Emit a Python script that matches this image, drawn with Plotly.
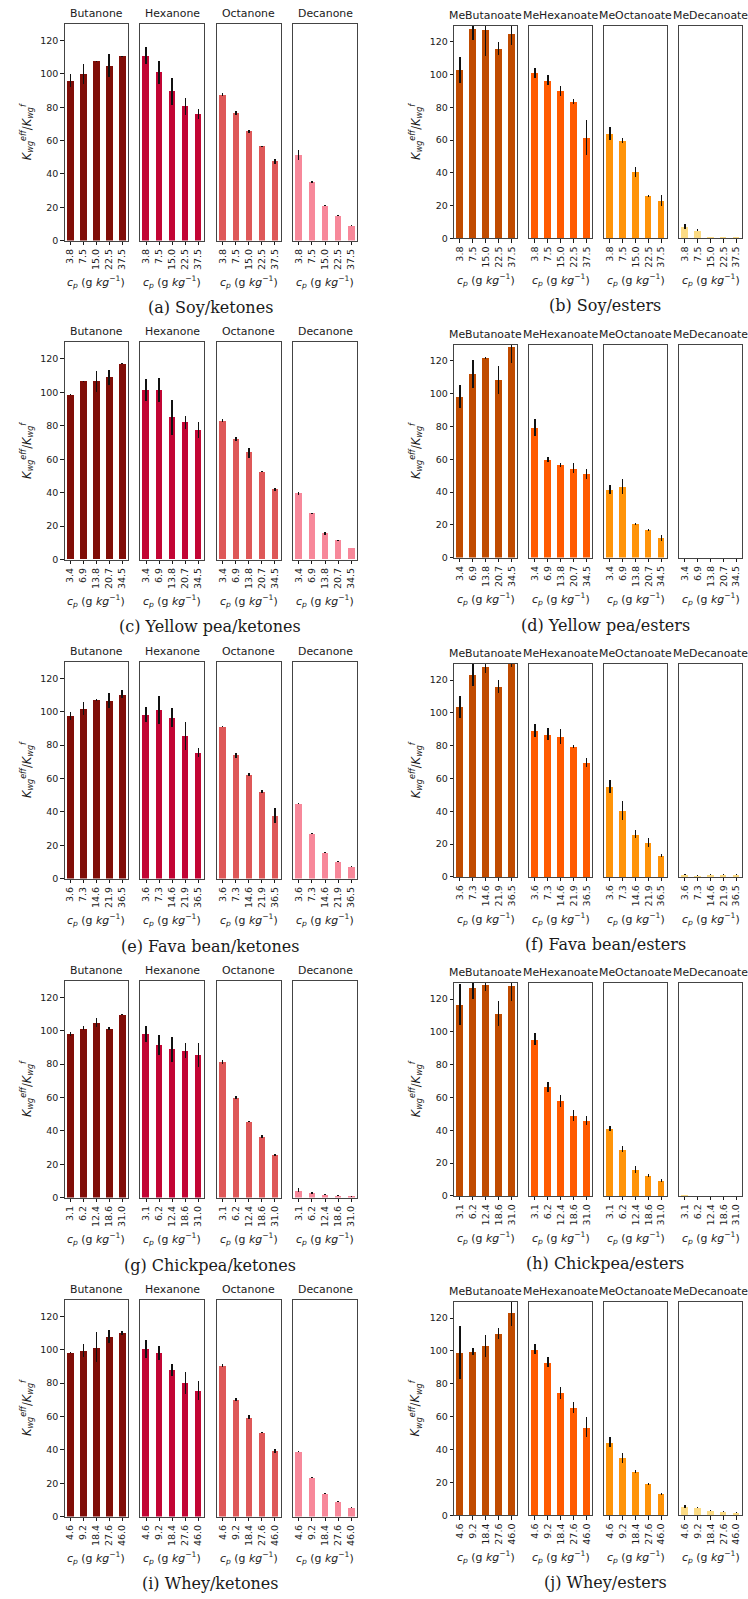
import plotly.graph_objects as go

W, H = 748, 1599

ketones = ["Butanone", "Hexanone", "Octanone", "Decanone"]
esters = ["MeButanoate", "MeHexanoate", "MeOctanoate", "MeDecanoate"]
ketone_colors = ["#800e08", "#c20534", "#de5858", "#f7889a"]
ester_colors = ["#c04b00", "#ff5a00", "#ff9409", "#fcdb84"]

conc_soy = ["3.8", "7.5", "15.0", "22.5", "37.5"]
conc_pea = ["3.4", "6.9", "13.8", "20.7", "34.5"]
conc_fava = ["3.6", "7.3", "14.6", "21.9", "36.5"]
conc_chickpea = ["3.1", "6.2", "12.4", "18.6", "31.0"]
conc_whey = ["4.6", "9.2", "18.4", "27.6", "46.0"]

soy_ketones = [[96, 100, 107.5, 105, 110.5], [111, 101, 89.5, 80.5, 76],
               [87.5, 76.5, 65.5, 56.5, 47.5], [51.5, 35, 21, 15, 9]]
soy_ketones_err = [[4, 6, 0.5, 7, 0.5], [5, 7, 8, 5, 3],
                   [1, 1, 0.7, 0.5, 1.5], [3, 0.7, 0.5, 0.4, 0.4]]
soy_esters = [[103, 128, 127.5, 116, 125], [101, 96.5, 90, 83.5, 61.5],
              [64, 60, 40.5, 26, 23], [7, 5, 0.7, 0.7, 0.8]]
soy_esters_err = [[8, 7, 16, 4, 7], [3, 3, 3, 1.5, 10.5],
                  [4, 1.5, 3, 0.5, 3.5], [1.5, 0.5, 0.2, 0.2, 0.2]]

pea_ketones = [[98.5, 106.5, 106.5, 109, 117], [101.5, 101.5, 85, 82, 77.5],
               [83, 72, 64, 52.5, 42], [39.5, 27.5, 15.5, 11.5, 6.5]]
pea_ketones_err = [[0.3, 0.3, 6.5, 4.5, 0.3], [6.5, 7, 10.5, 4, 4.5],
                   [1, 1.2, 3, 0.3, 0.7], [0.7, 0.5, 0.7, 0.4, 0]]
pea_esters = [[98.5, 112, 122, 108.5, 128.5], [79.5, 60, 56.5, 54.5, 51],
              [41.5, 43.5, 20.5, 17, 12], [0, 0, 0, 0, 0]]
pea_esters_err = [[7, 8.5, 0.5, 8.5, 9.5], [5, 1.5, 1.5, 3, 3],
                  [3, 4.5, 0.7, 0.7, 1.8], [0, 0, 0, 0, 0]]

fava_ketones = [[97.5, 102, 107, 106.5, 110.5], [98.5, 101, 96.5, 85.5, 75.5],
                [91, 74, 62.5, 52, 37.5], [45, 27, 15.5, 10.3, 7.2]]
fava_ketones_err = [[2.5, 4, 0.5, 4.5, 2.5], [4.5, 8.5, 5.5, 8.5, 2.5],
                    [0.3, 1.5, 0.8, 0.8, 4.5], [0.2, 0.4, 0.3, 0.3, 0.3]]
fava_esters = [[103.5, 123, 128, 116, 132], [89, 87, 85.5, 79.5, 69.5],
               [55, 40.5, 26, 21, 13], [1.3, 0.7, 1.3, 1.3, 1.3]]
fava_esters_err = [[6.5, 6.5, 3.5, 4, 4], [4, 3.5, 4.5, 0.8, 2.7],
                   [4, 5.5, 2.5, 2.5, 1], [0.3, 0.2, 0.3, 0.2, 0.2]]

chickpea_ketones = [[98, 101.5, 105, 101.5, 109.5], [98, 91.5, 89, 88, 85.5],
                    [81.5, 60, 45.5, 36.5, 25.5], [4.3, 3, 1.7, 1.2, 0.6]]
chickpea_ketones_err = [[1.2, 1.2, 2.5, 1, 0.3], [5, 6, 7.5, 4.5, 7],
                        [1.2, 0.8, 0.3, 1, 0.8], [1.2, 0.6, 0.2, 0.2, 0.1]]
chickpea_esters = [[116.5, 127, 128.5, 111, 128], [95.5, 66.5, 58, 49, 46],
                   [41, 28.5, 16, 12.5, 9.5], [0.6, 0.1, 0.1, 0.1, 0.1]]
chickpea_esters_err = [[12.5, 7, 3.5, 7.5, 9], [3.5, 3, 3.5, 3.5, 2.5],
                       [1.5, 1.8, 2, 0.8, 0.7], [0.1, 0.1, 0.1, 0.1, 0.1]]

whey_ketones = [[98.5, 99.5, 101.5, 108, 110], [100.5, 98, 88, 80, 75.5],
                [90.5, 70, 59.5, 50.5, 39.5], [39, 23.5, 14, 9.2, 5.5]]
whey_ketones_err = [[0.2, 4, 9, 4, 1.2], [5.5, 4, 3.5, 6.5, 5.5],
                    [1, 0.8, 1.2, 0.3, 1.2], [0.5, 0.4, 0.3, 0.2, 0.3]]
whey_esters = [[99, 99.5, 103, 110.5, 123.5], [101, 93, 74.5, 65.5, 53.5],
               [44.5, 35, 26.5, 19, 13], [5.3, 4.7, 2.8, 2.2, 1.6]]
whey_esters_err = [[16, 2, 6.5, 3.5, 8.5], [3, 3, 3.5, 3.5, 6],
                   [3, 3, 1, 0.6, 0.8], [0.8, 0.3, 0.2, 0.1, 0.1]]

y_ticks = [0, 20, 40, 60, 80, 100, 120]

panels = [
    ("(a) Soy/ketones", conc_soy, ketones, ketone_colors, soy_ketones, soy_ketones_err, 0, 0),
    ("(b) Soy/esters", conc_soy, esters, ester_colors, soy_esters, soy_esters_err, 1, 0),
    ("(c) Yellow pea/ketones", conc_pea, ketones, ketone_colors, pea_ketones, pea_ketones_err, 0, 1),
    ("(d) Yellow pea/esters", conc_pea, esters, ester_colors, pea_esters, pea_esters_err, 1, 1),
    ("(e) Fava bean/ketones", conc_fava, ketones, ketone_colors, fava_ketones, fava_ketones_err, 0, 2),
    ("(f) Fava bean/esters", conc_fava, esters, ester_colors, fava_esters, fava_esters_err, 1, 2),
    ("(g) Chickpea/ketones", conc_chickpea, ketones, ketone_colors, chickpea_ketones, chickpea_ketones_err, 0, 3),
    ("(h) Chickpea/esters", conc_chickpea, esters, ester_colors, chickpea_esters, chickpea_esters_err, 1, 3),
    ("(i) Whey/ketones", conc_whey, ketones, ketone_colors, whey_ketones, whey_ketones_err, 0, 4),
    ("(j) Whey/esters", conc_whey, esters, ester_colors, whey_esters, whey_esters_err, 1, 4),
]

# geometry in pixels
col_x = [
    [(64.7, 127.7), (140.3, 204), (217, 280.7), (293, 357)],
    [(454.3, 517.3), (529.3, 592.3), (604.3, 667), (679.3, 742)],
]
row_y = [
    [(24, 241.3), (343.3, 561.3), (663.7, 881.3), (983.7, 1201.3), (1303.7, 1521.3)],
    [(25.6, 239), (345.7, 559.3), (665.7, 879.7), (985.7, 1199.7), (1305.7, 1520)],
]
caption_y = [[308, 628, 949, 1269, 1588], [306, 627, 947, 1267, 1587]]
caption_x = [210, 605]
ylabel_x = [27, 416]


def px(x):
    return x / W


def py(y):
    return 1 - y / H


SANS = "DejaVu Sans"
TXT = "#1a1a1a"
FRAME = "#444444"

fig = go.Figure()
layout = {}
annotations = []
k = 0
for caption, conc, names, colors, vals, errs, col, row in panels:
    top, bot = row_y[col][row]
    for j in range(4):
        k += 1
        xn = "x" if k == 1 else f"x{k}"
        yn = "y" if k == 1 else f"y{k}"
        x0, x1 = col_x[col][j]
        fig.add_trace(go.Bar(
            x=conc, y=vals[j], xaxis=xn, yaxis=yn,
            marker=dict(color=colors[j], line=dict(width=0)),
            width=0.5, showlegend=False,
            error_y=dict(type="data", array=errs[j], color="#111111",
                         thickness=1.4, width=0, visible=True),
        ))
        layout[f"xaxis{'' if k == 1 else k}"] = dict(
            domain=[px(x0), px(x1)], anchor=yn, type="category",
            range=[-0.44, 4.44], showgrid=False, zeroline=False,
            showline=True, mirror=True, linecolor=FRAME, linewidth=1,
            ticks="outside", ticklen=3.5, tickwidth=1, tickcolor=TXT,
            tickangle=-90, tickfont=dict(family=SANS, size=9.5, color=TXT),
            fixedrange=True,
        )
        layout[f"yaxis{'' if k == 1 else k}"] = dict(
            domain=[py(bot), py(top)], anchor=xn, range=[0, 130],
            showgrid=False, zeroline=False,
            showline=True, mirror=True, linecolor=FRAME, linewidth=1,
            tickvals=y_ticks,
            ticks="outside" if j == 0 else "", ticklen=3.5, tickwidth=1,
            tickcolor=TXT, showticklabels=(j == 0),
            tickfont=dict(family=SANS, size=9.5, color=TXT), fixedrange=True,
        )
        # subplot title
        annotations.append(dict(
            x=px((x0 + x1) / 2), y=py(top - 2), xref="paper", yref="paper",
            text=names[j], showarrow=False, xanchor="center", yanchor="bottom",
            font=dict(family=SANS, size=10.9, color=TXT),
        ))
        # x-axis title
        annotations.append(dict(
            x=px((x0 + x1) / 2), y=py(bot + 42), xref="paper", yref="paper",
            text="<i>c</i><sub><i>p</i></sub> (g <i>kg</i><sup>−1</sup>)",
            showarrow=False, xanchor="center", yanchor="middle",
            font=dict(family=SANS, size=10.9, color=TXT),
        ))
    # y-axis title
    annotations.append(dict(
        x=px(ylabel_x[col]), y=py((top + bot) / 2), xref="paper", yref="paper",
        text="<i>K</i><sub><i>wg</i></sub><sup><i>eff</i></sup>/<i>K</i><sub><i>wg</i></sub><sup><i>f</i></sup>",
        showarrow=False, textangle=-90, xanchor="center", yanchor="middle",
        font=dict(family=SANS, size=11.5, color=TXT),
    ))
    # caption
    annotations.append(dict(
        x=px(caption_x[col]), y=py(caption_y[col][row]),
        xref="paper", yref="paper", text=caption, showarrow=False,
        xanchor="center", yanchor="middle",
        font=dict(family="DejaVu Serif", size=16, color=TXT),
    ))

fig.update_layout(
    width=W, height=H, margin=dict(l=0, r=0, t=0, b=0),
    paper_bgcolor="white", plot_bgcolor="white",
    annotations=annotations, bargap=0, **layout,
)

post = (
    "document.documentElement.style.margin='0';"
    "document.documentElement.style.overflow='hidden';"
    "document.body.style.margin='0';"
    "document.body.style.padding='0';"
    "document.body.style.overflow='hidden';"
)

fig.write_html("out.html", post_script=post,
               config={"displayModeBar": False})
